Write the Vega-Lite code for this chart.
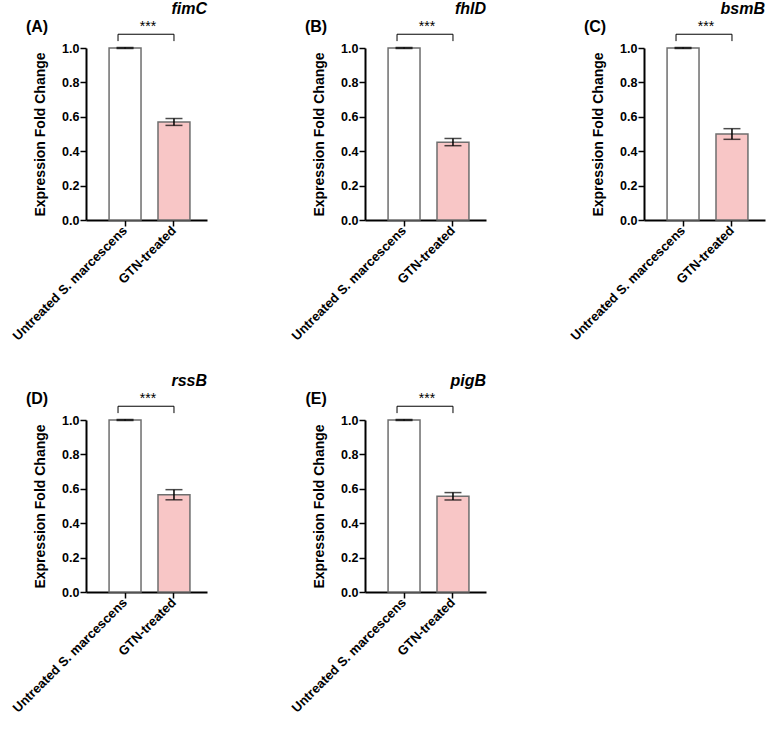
{
  "$schema": "https://vega.github.io/schema/vega-lite/v6.json",
  "padding": {"left": 10, "top": 1, "right": 5, "bottom": 5},
  "background": "white",
  "data": {"values": [
    {"gene": "fimC", "panel": "(A)", "group": "Untreated S. marcescens", "mean": 1.0, "lo": 0.997, "hi": 1.003, "to": "GTN-treated", "tick_lo": 1.04, "tick_hi": 1.08, "star_y": 1.12, "stars": "***", "label_y": 1.12},
    {"gene": "fimC", "panel": "(A)", "group": "GTN-treated", "mean": 0.57, "lo": 0.55, "hi": 0.59},
    {"gene": "fhlD", "panel": "(B)", "group": "Untreated S. marcescens", "mean": 1.0, "lo": 0.997, "hi": 1.003, "to": "GTN-treated", "tick_lo": 1.04, "tick_hi": 1.08, "star_y": 1.12, "stars": "***", "label_y": 1.12},
    {"gene": "fhlD", "panel": "(B)", "group": "GTN-treated", "mean": 0.452, "lo": 0.432, "hi": 0.474},
    {"gene": "bsmB", "panel": "(C)", "group": "Untreated S. marcescens", "mean": 1.0, "lo": 0.997, "hi": 1.003, "to": "GTN-treated", "tick_lo": 1.04, "tick_hi": 1.08, "star_y": 1.12, "stars": "***", "label_y": 1.12},
    {"gene": "bsmB", "panel": "(C)", "group": "GTN-treated", "mean": 0.5, "lo": 0.469, "hi": 0.531},
    {"gene": "rssB", "panel": "(D)", "group": "Untreated S. marcescens", "mean": 1.0, "lo": 0.997, "hi": 1.003, "to": "GTN-treated", "tick_lo": 1.04, "tick_hi": 1.08, "star_y": 1.12, "stars": "***", "label_y": 1.12},
    {"gene": "rssB", "panel": "(D)", "group": "GTN-treated", "mean": 0.565, "lo": 0.536, "hi": 0.595},
    {"gene": "pigB", "panel": "(E)", "group": "Untreated S. marcescens", "mean": 1.0, "lo": 0.997, "hi": 1.003, "to": "GTN-treated", "tick_lo": 1.04, "tick_hi": 1.08, "star_y": 1.12, "stars": "***", "label_y": 1.12},
    {"gene": "pigB", "panel": "(E)", "group": "GTN-treated", "mean": 0.556, "lo": 0.535, "hi": 0.578}
  ]},
  "facet": {
    "field": "gene", "type": "nominal",
    "sort": ["fimC", "fhlD", "bsmB", "rssB", "pigB"],
    "header": {
      "title": null,
      "labelFont": "Liberation Sans",
      "labelFontStyle": "italic",
      "labelFontWeight": "bold",
      "labelFontSize": 16,
      "labelColor": "black",
      "labelAnchor": "end",
      "labelPadding": 2
    }
  },
  "columns": 3,
  "spacing": {"row": 30, "column": 82},
  "resolve": {"axis": {"x": "independent", "y": "independent"}},
  "spec": {
    "width": 121,
    "height": 172,
    "encoding": {
      "x": {
        "field": "group", "type": "nominal",
        "scale": {"domain": ["Untreated S. marcescens", "GTN-treated"], "paddingInner": 0.347, "paddingOuter": 0.41, "align": 0.575},
        "axis": {
          "title": null,
          "labelAngle": -45,
          "labelAlign": "right",
          "labelBaseline": "middle",
          "labelFont": "Liberation Sans",
          "labelFontWeight": "bold",
          "labelFontSize": 13,
          "labelColor": "black",
          "labelPadding": 2,
          "domainColor": "black",
          "domainWidth": 2,
          "tickColor": "black",
          "tickWidth": 1.5,
          "tickSize": 6,
          "labelLimit": 300,
          "labelOverlap": false
        }
      },
      "y": {
        "field": "mean", "type": "quantitative",
        "scale": {"domain": [0, 1], "nice": false},
        "axis": {
          "title": "Expression Fold Change",
          "titleFont": "Liberation Sans",
          "titleFontWeight": "bold",
          "titleFontSize": 14,
          "titleColor": "black",
          "titlePadding": 14,
          "values": [0, 0.2, 0.4, 0.6, 0.8, 1.0],
          "format": ".1f",
          "labelFont": "Liberation Sans",
          "labelFontWeight": "bold",
          "labelFontSize": 12.5,
          "labelColor": "black",
          "labelOverlap": false,
          "labelSeparation": 0,
          "labelPadding": 1,
          "grid": false,
          "domainColor": "black",
          "domainWidth": 2,
          "tickColor": "black",
          "tickWidth": 1.5,
          "tickSize": 6
        }
      }
    },
    "layer": [
      {
        "mark": {"type": "bar", "stroke": "#6e6e6e", "strokeWidth": 1.5},
        "encoding": {
          "fill": {
            "field": "group", "type": "nominal",
            "scale": {"domain": ["Untreated S. marcescens", "GTN-treated"], "range": ["#ffffff", "#f8c6c6"]},
            "legend": null
          }
        }
      },
      {
        "mark": {"type": "rule", "color": "black", "strokeWidth": 1.5},
        "encoding": {
          "y": {"field": "lo", "type": "quantitative"},
          "y2": {"field": "hi"}
        }
      },
      {
        "mark": {"type": "tick", "color": "black", "size": 17, "thickness": 1.5, "orient": "horizontal"},
        "encoding": {"y": {"field": "lo", "type": "quantitative"}}
      },
      {
        "mark": {"type": "tick", "color": "black", "size": 17, "thickness": 1.5, "orient": "horizontal"},
        "encoding": {"y": {"field": "hi", "type": "quantitative"}}
      },
      {
        "transform": [{"filter": "isValid(datum.to)"}],
        "mark": {"type": "rule", "color": "black", "strokeWidth": 1},
        "encoding": {
          "x": {"field": "group", "type": "nominal", "bandPosition": 0.28},
          "x2": {"field": "to"},
          "y": {"field": "tick_hi", "type": "quantitative"}
        }
      },
      {
        "transform": [{"filter": "isValid(datum.to)"}],
        "mark": {"type": "rule", "color": "black", "strokeWidth": 1},
        "encoding": {
          "x": {"field": "group", "type": "nominal", "bandPosition": 0.28},
          "y": {"field": "tick_lo", "type": "quantitative"},
          "y2": {"field": "tick_hi"}
        }
      },
      {
        "transform": [{"filter": "isValid(datum.to)"}],
        "mark": {"type": "rule", "color": "black", "strokeWidth": 1},
        "encoding": {
          "x": {"field": "to", "type": "nominal"},
          "y": {"field": "tick_lo", "type": "quantitative"},
          "y2": {"field": "tick_hi"}
        }
      },
      {
        "transform": [{"filter": "isValid(datum.to)"}],
        "mark": {"type": "text", "dx": 23, "fontSize": 14, "font": "Liberation Sans", "color": "black", "baseline": "middle"},
        "encoding": {
          "y": {"field": "star_y", "type": "quantitative"},
          "text": {"field": "stars"}
        }
      },
      {
        "transform": [{"filter": "isValid(datum.to)"}],
        "mark": {"type": "text", "dx": -88, "fontSize": 16, "fontWeight": "bold", "font": "Liberation Sans", "color": "black", "baseline": "middle"},
        "encoding": {
          "y": {"field": "label_y", "type": "quantitative"},
          "text": {"field": "panel"}
        }
      }
    ]
  },
  "config": {
    "view": {"stroke": null},
    "font": "Liberation Sans",
    "axis": {"labelOverlap": false},
    "axisY": {"labelOverlap": false, "tickCount": 6}
  }
}
